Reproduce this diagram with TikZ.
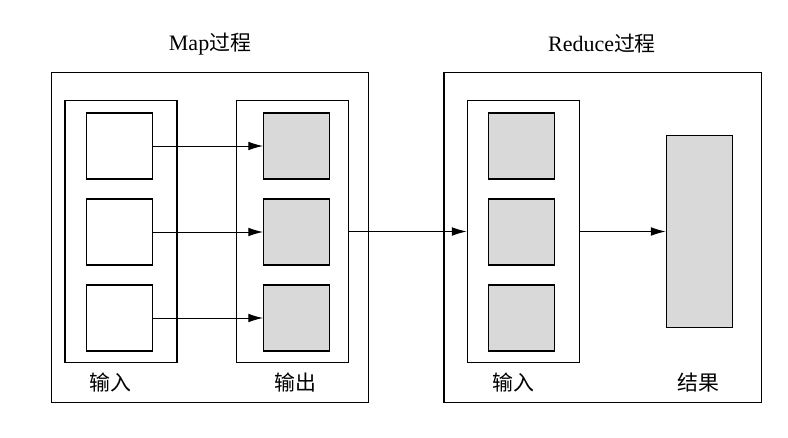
\documentclass[tikz,border=0pt]{standalone}
\usepackage{fontspec}
\setmainfont{Liberation Serif}
\newfontfamily\cjk[Scale=0.95]{Noto Sans CJK SC}
\usetikzlibrary{arrows.meta}
\definecolor{cellgray}{HTML}{D9D9D9}

\begin{document}
\begin{tikzpicture}[x=0.75pt,y=0.75pt]
  \tikzstyle{every node}+=[inner sep=0pt,font=\fontsize{16.5}{20}\selectfont]
  \tikzstyle{frame}=[draw=black,line width=0.8pt]
  \tikzstyle{cell}=[frame,minimum width=49.5pt,minimum height=49.5pt]
  \tikzstyle{arr}=[line width=0.7pt,-{Latex[length=11pt,width=6.5pt]}]
  \useasboundingbox (0,0) rectangle (788,-438);
  % Map
  \node [frame,minimum width=237.4pt,minimum height=247.1pt] (mapbox) at (210,-237.7) {};
  \node (maptitle) at (210,-44) {Map{\cjk 过程}};
  \node [frame,minimum width=84pt,minimum height=197pt] (mapin) at (121,-231.5) {};
  \node [frame,minimum width=84pt,minimum height=197pt] (mapout) at (292.5,-231.5) {};
  \node [cell] (in1) at (119.5,-146) {};
  \node [cell] (in2) at (119.5,-232) {};
  \node [cell] (in3) at (119.5,-318) {};
  \node [cell,fill=cellgray] (out1) at (296.5,-146) {};
  \node [cell,fill=cellgray] (out2) at (296.5,-232) {};
  \node [cell,fill=cellgray] (out3) at (296.5,-318) {};
  \node (mapinlabel) at (110,-383) {\cjk 输入};
  \node (mapoutlabel) at (295,-383) {\cjk 输出};
  \draw [arr] (in1.east) -- (out1.west);
  \draw [arr] (in2.east) -- (out2.west);
  \draw [arr] (in3.east) -- (out3.west);
  % Reduce
  \node [frame,minimum width=237.8pt,minimum height=247.1pt] (redbox) at (602.5,-237.7) {};
  \node (redtitle) at (602,-44) {Reduce{\cjk 过程}};
  \node [frame,minimum width=84.5pt,minimum height=197pt] (redin) at (523.5,-231.5) {};
  \node [cell,fill=cellgray] (red1) at (521.5,-146) {};
  \node [cell,fill=cellgray] (red2) at (521.5,-232) {};
  \node [cell,fill=cellgray] (red3) at (521.5,-318) {};
  \node [frame,fill=cellgray,minimum width=50pt,minimum height=143.3pt] (result) at (699.5,-231.5) {};
  \node (redinlabel) at (513,-383) {\cjk 输入};
  \node (resultlabel) at (698,-383) {\cjk 结果};
  \draw [arr] (mapout.east) -- (redin.west);
  \draw [arr] (redin.east) -- (result.west);
\end{tikzpicture}
\end{document}
